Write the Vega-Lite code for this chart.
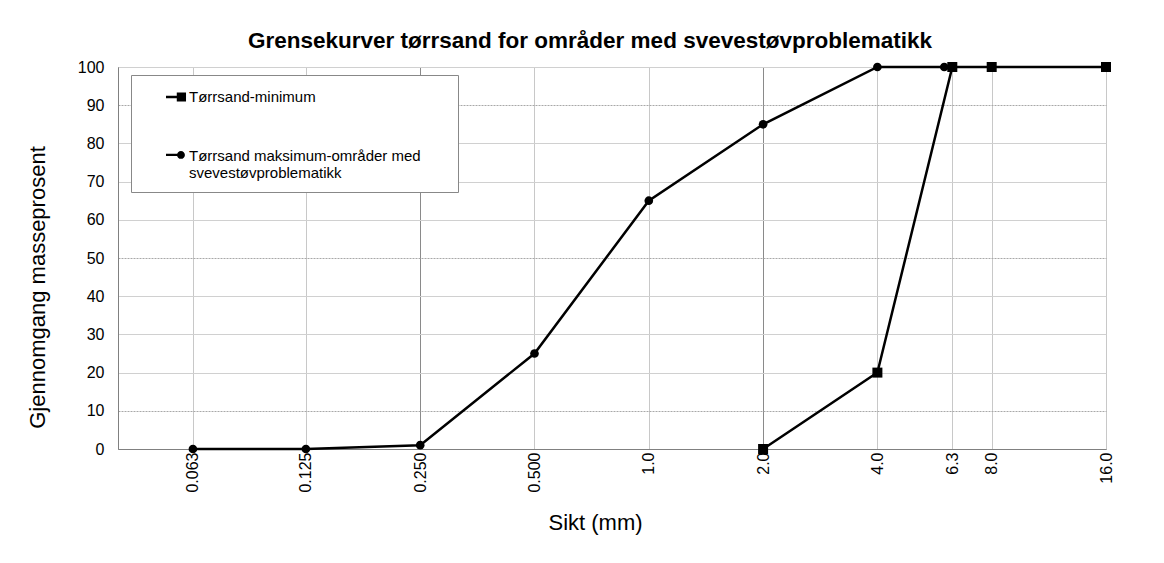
{
  "$schema": "https://vega.github.io/schema/vega-lite/v6.json",
  "width": 988,
  "height": 382,
  "autosize": {"type": "none"},
  "padding": {"left": 118, "top": 67, "right": 58, "bottom": 114},
  "background": "white",
  "title": {
    "text": "Grensekurver tørrsand for områder med svevestøvproblematikk",
    "font": "Liberation Sans",
    "fontSize": 22.5,
    "fontWeight": "bold",
    "color": "black",
    "anchor": "middle",
    "frame": "group",
    "baseline": "alphabetic",
    "offset": 19,
    "dx": -22,
    "dy": 30
  },
  "data": {
    "values": [
      {"series": "Tørrsand-minimum", "sikt": 2.0, "pass": 0},
      {"series": "Tørrsand-minimum", "sikt": 4.0, "pass": 20},
      {"series": "Tørrsand-minimum", "sikt": 6.3, "pass": 100},
      {"series": "Tørrsand-minimum", "sikt": 8.0, "pass": 100},
      {"series": "Tørrsand-minimum", "sikt": 16.0, "pass": 100},
      {"series": "Tørrsand maksimum-områder med svevestøvproblematikk", "sikt": 0.063, "pass": 0},
      {"series": "Tørrsand maksimum-områder med svevestøvproblematikk", "sikt": 0.125, "pass": 0},
      {"series": "Tørrsand maksimum-områder med svevestøvproblematikk", "sikt": 0.25, "pass": 1},
      {"series": "Tørrsand maksimum-områder med svevestøvproblematikk", "sikt": 0.5, "pass": 25},
      {"series": "Tørrsand maksimum-områder med svevestøvproblematikk", "sikt": 1.0, "pass": 65},
      {"series": "Tørrsand maksimum-områder med svevestøvproblematikk", "sikt": 2.0, "pass": 85},
      {"series": "Tørrsand maksimum-områder med svevestøvproblematikk", "sikt": 4.0, "pass": 100},
      {"series": "Tørrsand maksimum-områder med svevestøvproblematikk", "sikt": 6.0, "pass": 100}
    ]
  },
  "encoding": {
    "x": {
      "field": "sikt",
      "type": "quantitative",
      "scale": {"type": "log", "base": 2, "domain": [0.04, 16], "nice": false},
      "axis": {
        "title": "Sikt (mm)",
        "values": [0.063, 0.125, 0.25, 0.5, 1, 2, 4, 6.3, 8, 16],
        "labelExpr": "datum.value < 1 ? format(datum.value, '.3f') : format(datum.value, '.1f')",
        "labelAngle": -90,
        "labelPadding": 3,
        "labelFont": "Liberation Sans",
        "labelFontSize": 16,
        "labelColor": "black",
        "ticks": false,
        "domainColor": "#808080",
        "grid": true,
        "gridColor": {"condition": {"test": "datum.value == 0.25 || datum.value == 2", "value": "#8a8a8a"}, "value": "#c8c8c8"},
        "gridWidth": 1,
        "titleFont": "Liberation Sans",
        "titleFontSize": 22,
        "titleFontWeight": "normal",
        "titleColor": "black",
        "titleX": 477,
        "titleY": 80,
        "titleBaseline": "alphabetic",
        "titleAlign": "center",
        "labelOverlap": false
      }
    },
    "y": {
      "field": "pass",
      "type": "quantitative",
      "scale": {"domain": [0, 100], "nice": false},
      "axis": {
        "title": "Gjennomgang masseprosent",
        "values": [0, 10, 20, 30, 40, 50, 60, 70, 80, 90, 100],
        "labelFont": "Liberation Sans",
        "labelFontSize": 16,
        "labelColor": "black",
        "labelPadding": 14,
        "ticks": false,
        "domainColor": "#808080",
        "grid": true,
        "gridColor": {"condition": {"test": "datum.value == 10 || datum.value == 50 || datum.value == 90", "value": "#a8a8a8"}, "value": "#d0d0d0"},
        "gridDash": {"condition": {"test": "datum.value == 10 || datum.value == 50 || datum.value == 90", "value": [2, 1]}, "value": []},
        "titleFont": "Liberation Sans",
        "titleFontSize": 22,
        "titleFontWeight": "normal",
        "titleColor": "black",
        "titleX": -74,
        "titleY": 220,
        "titleAngle": -90,
        "titleBaseline": "alphabetic",
        "titleAlign": "center"
      }
    }
  },
  "layer": [
    {
      "mark": {"type": "line", "color": "black", "strokeWidth": 2.5},
      "encoding": {"detail": {"field": "series"}}
    },
    {
      "mark": {"type": "point", "filled": true, "color": "black", "opacity": 1},
      "encoding": {
        "shape": {
          "field": "series",
          "type": "nominal",
          "scale": {"domain": ["Tørrsand-minimum", "Tørrsand maksimum-områder med svevestøvproblematikk"], "range": ["square", "circle"]},
          "legend": null
        },
        "size": {
          "field": "series",
          "type": "nominal",
          "scale": {"domain": ["Tørrsand-minimum", "Tørrsand maksimum-områder med svevestøvproblematikk"], "range": [100, 75]},
          "legend": null
        }
      }
    },
    {
      "transform": [{"filter": "false"}],
      "mark": {"type": "point", "filled": true, "color": "black", "size": 484},
      "encoding": {
        "shape": {
          "field": "series",
          "type": "nominal",
          "scale": {
            "domain": ["Tørrsand-minimum", "Tørrsand maksimum-områder med svevestøvproblematikk"],
            "range": [
              "M-1,-0.11H0.05V0.11H-1Z M-0.02,-0.42H0.82V0.42H-0.02Z",
              "M-1,-0.21H0.4V0.01H-1Z M0,-0.1C0,-0.299 0.161,-0.46 0.36,-0.46C0.559,-0.46 0.72,-0.299 0.72,-0.1C0.72,0.099 0.559,0.26 0.36,0.26C0.161,0.26 0,0.099 0,-0.1Z"
            ]
          },
          "legend": {
            "title": null,
            "orient": "none",
            "legendX": 13,
            "legendY": 8,
            "padding": 11,
            "rowPadding": 40,
            "symbolOffset": 24,
            "labelOffset": 1,
            "symbolSize": 484,
            "symbolFillColor": "black",
            "symbolStrokeColor": "black",
            "symbolStrokeWidth": 0,
            "symbolOpacity": 1,
            "labelFont": "Liberation Sans",
            "labelFontSize": 15,
            "labelColor": "black",
            "labelLimit": 500,
            "labelExpr": "datum.label == 'Tørrsand-minimum' ? datum.label : ['Tørrsand maksimum-områder med \u2800\u2800', 'svevestøvproblematikk']",
            "fillColor": "white",
            "strokeColor": "#888888"
          }
        }
      }
    }
  ],
  "resolve": {"scale": {"shape": "independent"}, "legend": {"shape": "independent"}},
  "config": {
    "view": {"stroke": "#808080", "strokeWidth": 1}
  }
}
